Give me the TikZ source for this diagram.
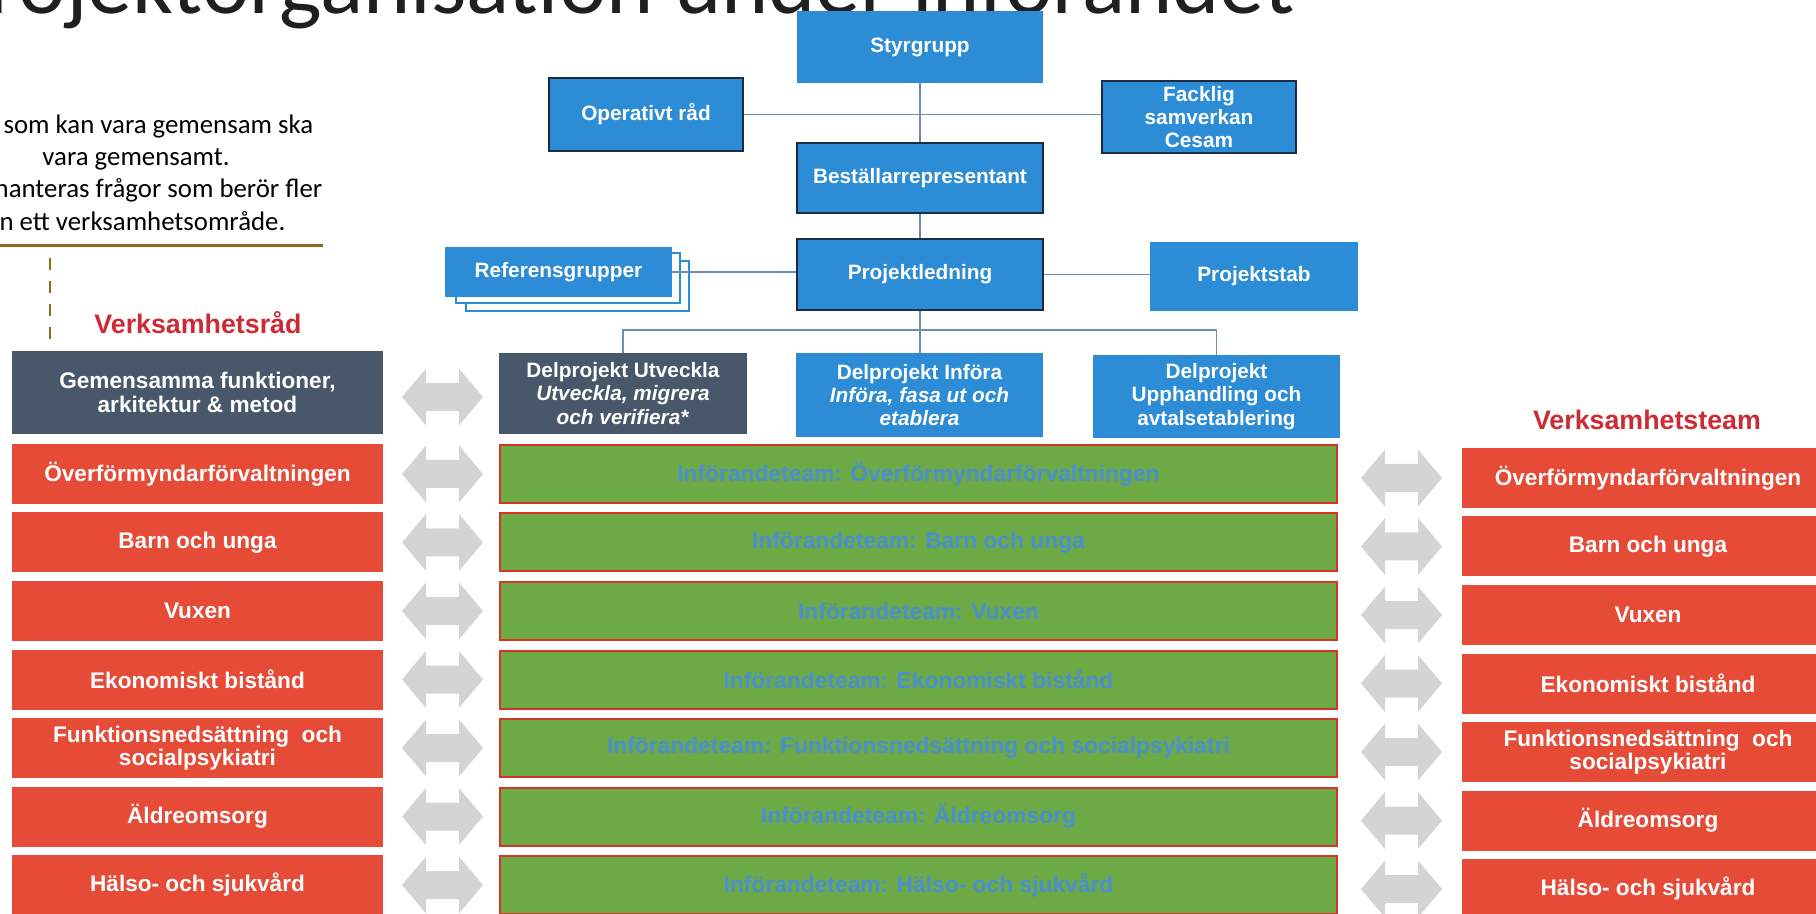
\documentclass[tikz,border=0pt]{standalone}
\usepackage{fontspec}
\setmainfont{Liberation Sans}
\newfontfamily\calibri{Carlito}

\definecolor{orgblue}{HTML}{2C8CD5}
\definecolor{orgedge}{HTML}{1E2B44}
\definecolor{slate}{HTML}{48586A}
\definecolor{areared}{HTML}{E64B38}
\definecolor{teamgreen}{HTML}{6DAA45}
\definecolor{barred}{HTML}{D6342A}
\definecolor{teamtext}{HTML}{4A8FD0}
\definecolor{headred}{HTML}{CC2B35}
\definecolor{linkblue}{HTML}{6F8DAD}
\definecolor{arrowgray}{HTML}{D4D4D4}
\definecolor{rulebrown}{HTML}{8A6A1E}

\tikzset{
	orgbox/.style={fill=orgblue, text=white, inner sep=0pt, align=center,
		font=\fontsize{10.4}{11.7}\selectfont\bfseries},
	framed/.style={draw=orgedge, line width=1pt},
	areabox/.style={fill=areared, text=white, inner sep=0pt, align=center,
		minimum width=185.5pt, minimum height=30pt,
		font=\fontsize{11.3}{11.7}\selectfont\bfseries},
	teambar/.style={fill=teamgreen, draw=barred, line width=1pt, text=teamtext,
		inner sep=0pt, minimum width=418.5pt, minimum height=29pt,
		font=\fontsize{11.4}{12}\selectfont\bfseries},
	link/.style={draw=linkblue, line width=0.6pt},
	heading/.style={text=headred, inner sep=0pt,
		font=\fontsize{13.4}{14}\selectfont\bfseries},
	twoway/.pic={
		\fill[arrowgray] (-40.5,0) -- (-16.5,-28.5) -- (-16.5,-14) -- (16.5,-14)
			-- (16.5,-28.5) -- (40.5,0) -- (16.5,28.5) -- (16.5,14)
			-- (-16.5,14) -- (-16.5,28.5) -- cycle;
	},
}

\begin{document}
\begin{tikzpicture}[x=0.5pt, y=-0.5pt]
	\useasboundingbox (0,0) rectangle (1816,914);
	\clip (0,0) rectangle (1816,914);

	% heading and note
	\node[anchor=base east, inner sep=0pt, text=black!88,
		font=\calibri\fontsize{45}{46}\selectfont] (title) at (1295,14)
		{Projektorganisation under införandet};
	\node[anchor=north, inner sep=0pt, align=center,
		font=\calibri\fontsize{13.4}{16.2}\selectfont] (note) at (136,114)
		{Det som kan vara gemensam ska\\vara gemensamt.\\Här hanteras frågor som berör fler\\än ett verksamhetsområde.};
	\draw[rulebrown, line width=1.5pt] (0,246) -- (323,246);
	\draw[rulebrown, line width=1pt, dash pattern=on 6pt off 5.5pt] (50,258) -- (50,342);

	% steering
	\node[orgbox, minimum width=123pt, minimum height=36pt] (styr) at (920,47) {Styrgrupp};
	\node[orgbox, framed, minimum width=97pt, minimum height=36.5pt] (oper) at (646,114.5) {Operativt råd};
	\node[orgbox, framed, minimum width=97pt, minimum height=36pt] (fack) at (1199,117) {Facklig\\samverkan\\Cesam};
	\node[orgbox, framed, minimum width=123pt, minimum height=35pt] (best) at (920,178) {Beställarrepresentant};
	\node[orgbox, framed, minimum width=123pt, minimum height=35.5pt] (pled) at (920,274.5) {Projektledning};
	\node[orgbox, minimum width=104pt, minimum height=34.5pt] (pstab) at (1254,276.5) {Projektstab};
	\draw[orgblue, fill=white, line width=1pt] (466,261) rectangle (689,311);
	\draw[orgblue, fill=white, line width=1pt] (456,253) rectangle (680,303);
	\node[orgbox, minimum width=113.5pt, minimum height=25pt] (ref) at (558.5,272) {Referensgrupper};

	% subprojects
	\node[orgbox, fill=slate, minimum width=124pt, minimum height=40.5pt] (dp1) at (623,393.5)
		{Delprojekt Utveckla\\\textit{Utveckla, migrera}\\\textit{och verifiera*}};
	\node[orgbox, minimum width=123.5pt, minimum height=42pt] (dp2) at (919.5,395)
		{Delprojekt Införa\\\textit{Införa, fasa ut och}\\\textit{etablera}};
	\node[orgbox, minimum width=123.5pt, minimum height=41.5pt] (dp3) at (1216.5,396.5)
		{Delprojekt\\Upphandling och\\avtalsetablering};

	\draw[link] (oper.east) -- (oper.east -| fack.west);
	\draw[link] (styr) -- (best);
	\draw[link] (best) -- (pled);
	\draw[link] (ref.east) -- (ref.east -| pled.west);
	\draw[link] (pled.east) -- (pled.east -| pstab.west);
	\coordinate (bus) at (920,330);
	\draw[link] (pled.south) -- (pled.south |- dp2.north);
	\draw[link] (dp1.north) -- (dp1.north |- bus) -- (dp3.north |- bus) -- (dp3.north);

	% business areas
	\node[heading] (radhead) at (198,323) {Verksamhetsråd};
	\node[heading] (teamhead) at (1647,420) {Verksamhetsteam};
	\node[areabox, fill=slate, minimum height=41.5pt] (gem) at (197.5,392.5)
		{Gemensamma funktioner,\\arkitektur \& metod};
	\pic at (442.5,397) {twoway};

	\foreach \area/\team [count=\i from 0] in {%
		Överförmyndarförvaltningen/Överförmyndarförvaltningen,
		Barn och unga/Barn och unga,
		Vuxen/Vuxen,
		Ekonomiskt bistånd/Ekonomiskt bistånd,
		Funktionsnedsättning\ \ och\\socialpsykiatri/Funktionsnedsättning och socialpsykiatri,
		Äldreomsorg/Äldreomsorg,
		Hälso- och sjukvård/Hälso- och sjukvård} {
		\pgfmathsetmacro\yl{474+68.5*\i}
		\pgfmathsetmacro\yr{478+68.5*\i}
		\node[areabox] (rad\i) at (197.5,\yl) {\area};
		\node[teambar] (team\i) at (918.5,\yl) {Införandeteam: \team};
		\node[areabox, minimum width=186pt] (vt\i) at (1648,\yr) {\area};
		\pic at (442.5,\yl) {twoway};
		\pic at (1401.5,\yr) {twoway};
	}
\end{tikzpicture}
\end{document}
